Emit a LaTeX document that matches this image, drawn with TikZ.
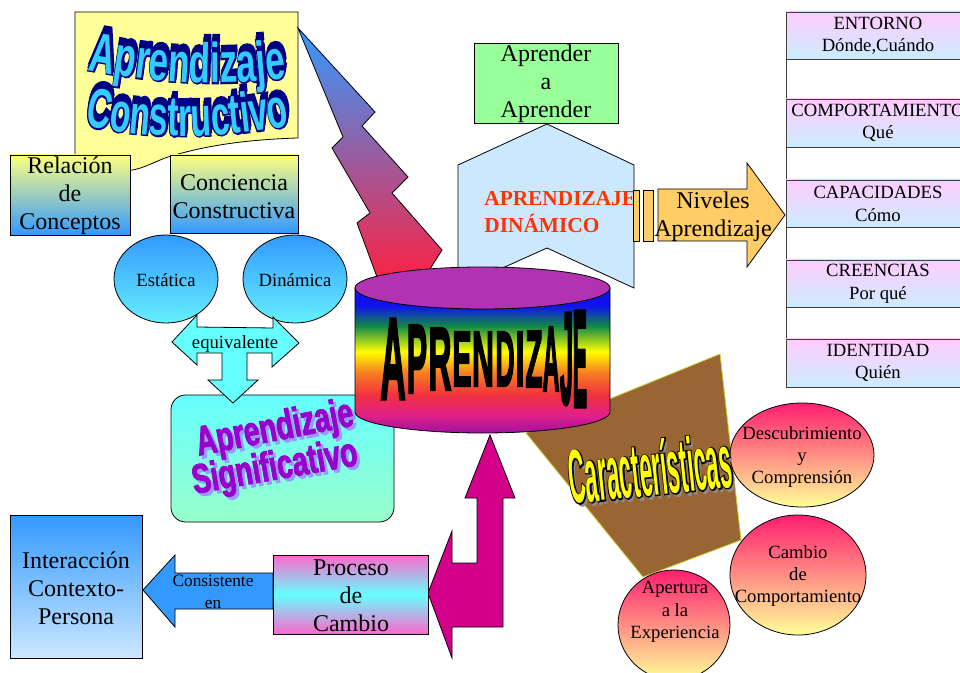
\documentclass[tikz,border=0pt]{standalone}
\usepackage{fontspec}
\setmainfont{Liberation Serif}
\newfontfamily\wfA[FakeStretch=0.63]{Liberation Sans}
\newfontfamily\wfAo[FakeStretch=0.63, FakeBold=5]{Liberation Sans}
\newfontfamily\wfB[FakeStretch=0.60]{Liberation Sans}
\newfontfamily\wfBo[FakeStretch=0.60, FakeBold=5]{Liberation Sans}
\newfontfamily\wfS[FakeStretch=0.68, FakeBold=2]{Liberation Sans}
\newfontfamily\wfC[FakeStretch=0.30]{Liberation Sans}
\newfontfamily\wfCo[FakeStretch=0.30, FakeBold=3]{Liberation Sans}
\newfontfamily\wfL[FakeBold=3]{Liberation Sans}
\usetikzlibrary{decorations.text}

\definecolor{bannerY}{HTML}{FFFF99}
\definecolor{relTop}{HTML}{FFFF80}
\definecolor{relBot}{HTML}{3399FF}
\definecolor{ellTop}{HTML}{3399FF}
\definecolor{ellBot}{HTML}{66F0FF}
\definecolor{sigTop}{HTML}{66FFFF}
\definecolor{sigBot}{HTML}{99FFCC}
\definecolor{sigText}{HTML}{9900CC}
\definecolor{sigShadow}{HTML}{9999FF}
\definecolor{eqC}{HTML}{66FFFF}
\definecolor{ltTop}{HTML}{3399FF}
\definecolor{ltBot}{HTML}{FF2040}
\definecolor{pentF}{HTML}{CCE8FF}
\definecolor{aprG}{HTML}{99FF99}
\definecolor{orangeA}{HTML}{FFCC66}
\definecolor{colTop}{HTML}{FFCCFF}
\definecolor{colBot}{HTML}{CCECFF}
\definecolor{brownQ}{HTML}{996633}
\definecolor{quadEdge}{HTML}{CCCC33}
\definecolor{cirTop}{HTML}{FF1F6F}
\definecolor{cirBot}{HTML}{FFFF99}
\definecolor{magA}{HTML}{D4008C}
\definecolor{intTop}{HTML}{3399FF}
\definecolor{intBot}{HTML}{CCE8FF}
\definecolor{procPink}{HTML}{FF66CC}
\definecolor{procCyan}{HTML}{66FFFF}
\definecolor{consC}{HTML}{3399FF}
\definecolor{cylTopC}{HTML}{B233B2}
\definecolor{dinRed}{HTML}{FF3300}
\definecolor{wnavy}{HTML}{000080}
\definecolor{wcyan}{HTML}{33CCFF}
\definecolor{charY}{HTML}{FFFF00}
\definecolor{charShadow}{HTML}{8C8C8C}
\definecolor{cylP}{HTML}{A010A0}
\definecolor{cylM}{HTML}{E0208A}
\definecolor{cylR}{HTML}{F03040}
\definecolor{cylO}{HTML}{F88020}
\definecolor{cylY}{HTML}{FFFF00}
\definecolor{cylG}{HTML}{108848}
\definecolor{cylB}{HTML}{1010F0}

% rainbow band for the side of the drum
\pgfdeclareverticalshading{rainbowside}{100bp}{color(0bp)=(cylP); color(25bp)=(cylP); color(31bp)=(cylM); color(38bp)=(cylR); color(46bp)=(cylO); color(53bp)=(cylY); color(62bp)=(cylG); color(69bp)=(cylB); color(100bp)=(cylB)}

% wavy word-art line: navy extrusion with a stroked rim, cyan face on top
\newcommand\wavecopies[4]{%
  \foreach \dx/\dy in {1/-7,0.5/-3.5,0/0}{%
    \path[shift={(\dx,\dy)}, decorate,
      decoration={text along path, text align=center, text={|#2\color{wnavy}|#3}}] #4;
  }%
  \path[decorate, decoration={text along path, text align=center, text={|#1\color{wcyan}|#3}}] #4;
}

\begin{document}
\begin{tikzpicture}[x=0.75pt, y=-0.75pt, line width=0.6pt,
  outl/.style={draw=black, line width=0.6pt},
  serif18/.style={align=center, inner sep=0pt, font=\fontsize{18}{21}\selectfont},
  serif14/.style={align=center, inner sep=0pt, font=\fontsize{14}{16.8}\selectfont},
  serif13/.style={align=center, inner sep=0pt, font=\fontsize{13}{16.5}\selectfont},
  levelbox/.style={draw=black!75, line width=0.6pt, top color=colTop, bottom color=colBot},
  charcircle/.style={draw=black, line width=0.6pt, top color=cirTop, bottom color=cirBot}]
\useasboundingbox (0,0) rectangle (960,673);
\clip (0,0) rectangle (960,673);

% ---- banner with wavy title ----
\path[outl, fill=bannerY] (75,12) -- (298,12) -- (298,138)
  .. controls (230,140) and (190,150) .. (165,158)
  .. controls (150,164) and (140,170) .. (125,171) -- (75,171) -- cycle;
\wavecopies{\wfA\bfseries\fontsize{42}{42}\selectfont}{\wfAo\bfseries\fontsize{42}{42}\selectfont}{Aprendizaje}{(50,62) .. controls (150,85) and (230,90) .. (325,72)}
\wavecopies{\wfB\bfseries\fontsize{42}{42}\selectfont}{\wfBo\bfseries\fontsize{42}{42}\selectfont}{Constructivo}{(45,115) .. controls (140,145) and (230,140) .. (330,118)}

% ---- lightning bolt ----
\path[outl, top color=ltTop, bottom color=ltBot]
  (298,28) -- (375,112) -- (362,126) -- (408,177) -- (392,193) -- (442,250)
  -- (420,285) -- (380,285) -- (357,223) -- (370,213) -- (332,148) -- (343,137) -- cycle;

% ---- two boxes under the banner ----
\path[outl, top color=relTop, bottom color=relBot] (10,155) rectangle (130,235);
\node[serif18] (rel) at (70,196) {Relación\\de\\Conceptos};
\path[outl, top color=relTop, bottom color=relBot] (170,155) rectangle (298,233);
\node[serif18] (conc) at (234,197) {Conciencia\\Constructiva};

% ---- static / dynamic ----
\path[outl, top color=ellTop, bottom color=ellBot] (166,279) ellipse [x radius=52, y radius=44];
\node[serif14] (est) at (166,280) {Estática};
\path[outl, top color=ellTop, bottom color=ellBot] (295,279) ellipse [x radius=52, y radius=44];
\node[serif14] (dina) at (295,280) {Dinámica};

% ---- meaningful learning box ----
\path[outl, rounded corners=11pt, top color=sigTop, bottom color=sigBot] (171,395) rectangle (394,522);

% ---- equivalence arrow ----
\path[outl, fill=eqC] (172,342) -- (197,315) -- (197,327) -- (273,328) -- (273,317) -- (299,343)
  -- (272,367) -- (272,353) -- (247,353) -- (247,380) -- (258,380) -- (233,403) -- (208,380)
  -- (222,380) -- (222,353) -- (197,353) -- (197,365) -- cycle;
\node[serif14] (eqv) at (235,344) {equivalente};

% ---- learning to learn / dynamic learning ----
\path[outl, fill=aprG] (474,43) rectangle (618,123);
\node[serif18] (apr) at (546,84) {Aprender\\a\\Aprender};
\path[outl, fill=pentF] (458,165) -- (547,124) -- (634,165) -- (634,288) -- (547,248) -- (458,288) -- cycle;
\node[anchor=west, align=left, inner sep=0pt, text=dinRed, font=\bfseries\fontsize{16}{20}\selectfont] (dinam) at (484,212) {APRENDIZAJE\\DINÁMICO};

% ---- levels arrow ----
\path[outl, fill=orangeA] (633,190) rectangle (639,241);
\path[outl, fill=orangeA] (643,190) rectangle (653,241);
\path[outl, fill=orangeA] (658,189) -- (747,189) -- (747,163) -- (785,215) -- (747,267) -- (747,241) -- (658,241) -- cycle;
\node[serif18] (niv) at (713,217) {Niveles\\Aprendizaje};

% ---- characteristics panel ----
\path[draw=quadEdge, line width=0.6pt, fill=brownQ] (526,433) -- (720,354) -- (741,540) -- (643,577) -- cycle;

% ---- central drum ----
\path[outl, shading=rainbowside] (355,288) -- (355,412)
  .. controls (355,423.6) and (412.1,433) .. (482.5,433)
  .. controls (552.9,433) and (610,423.6) .. (610,412) -- (610,288) -- cycle;
\path[outl, fill=cylTopC] (482.5,288) ellipse [x radius=127.5, y radius=21];
\foreach \ch/\xx/\sx/\sy [count=\i] in {A/393/0.66/2.17, P/417/0.57/1.83, R/440/0.60/1.68, E/462/0.54/1.47, N/483/0.57/1.47, D/505/0.50/1.47, I/520/0.62/1.47, Z/534/0.53/1.52, A/551/0.44/1.73, J/566.5/0.44/2.46, E/580/0.40/2.59}
  \node[inner sep=0pt, text=black, font=\wfL\bfseries\fontsize{40}{40}\selectfont] (drum\i) at (\xx,359) {\scalebox{\sx}[\sy]{\ch}};

% ---- word-art inside the meaningful learning box ----
\node[inner sep=0pt, rotate=11, text=sigShadow, font=\wfS\bfseries\fontsize{31}{31}\selectfont] (sigAs) at (278,433) {Aprendizaje};
\node[inner sep=0pt, rotate=11, text=sigText, font=\wfS\bfseries\fontsize{31}{31}\selectfont] (sigA) at (275,430) {Aprendizaje};
\node[inner sep=0pt, rotate=10, text=sigShadow, font=\wfS\bfseries\fontsize{31}{31}\selectfont] (sigBs) at (278,472) {Significativo};
\node[inner sep=0pt, rotate=10, text=sigText, font=\wfS\bfseries\fontsize{31}{31}\selectfont] (sigB) at (275,469) {Significativo};

% ---- magenta bent arrow ----
\path[outl, fill=magA] (428,593) -- (452,531) -- (452,563) -- (477,563) -- (477,498) -- (465,498)
  -- (490,435) -- (515,498) -- (503,498) -- (503,627) -- (452,627) -- (452,658) -- cycle;

% ---- characteristic circles ----
\path[charcircle] (802,455) ellipse [x radius=72, y radius=52];
\node[serif14] (desc) at (802,457) {Descubrimiento\\y\\Comprensión};
\path[charcircle] (798,575) ellipse [x radius=68, y radius=60];
\node[serif14] (camb) at (798,576) {Cambio\\de\\Comportamiento};
\path[charcircle] (674,625) ellipse [x radius=56, y radius=55];
\node[serif14] (aper) at (675,612) {Apertura\\a la\\Experiencia};

% ---- "Características" word-art: grey shadow, black rim, yellow face ----
\node[inner sep=0pt, rotate=6, text=charShadow, font=\wfC\bfseries\fontsize{57}{57}\selectfont] (caracS) at (653,472) {Características};
\node[inner sep=0pt, rotate=6, text=black, font=\wfCo\bfseries\fontsize{57}{57}\selectfont] (caracR) at (650,468) {Características};
\node[inner sep=0pt, rotate=6, text=charY, font=\wfC\bfseries\fontsize{57}{57}\selectfont] (carac) at (650,468) {Características};

% ---- logical levels column ----
\draw[draw=black!75, line width=0.6pt] (786,12) -- (786,387);
\path[levelbox] (786,12) rectangle (975,59);
\node[serif14] (lv1) at (878,36) {ENTORNO\\Dónde,Cuándo};
\path[levelbox] (786,99) rectangle (975,147);
\node[serif14] (lv2) at (878,123) {COMPORTAMIENTO\\Qué};
\path[levelbox] (786,180) rectangle (975,227);
\node[serif14] (lv3) at (878,204) {CAPACIDADES\\Cómo};
\path[levelbox] (786,260) rectangle (975,307);
\node[serif14] (lv4) at (878,284) {CREENCIAS\\Por qué};
\path[levelbox] (786,339) rectangle (975,387);
\node[serif14] (lv5) at (878,363) {IDENTIDAD\\Quién};

% ---- bottom row ----
\path[outl, top color=intTop, bottom color=intBot] (10,515) rectangle (142,658);
\node[serif18] (inter) at (76,588) {Interacción\\Contexto-\\Persona};
\path[outl, fill=consC] (143,590) -- (175,555) -- (175,573) -- (273,573) -- (273,609) -- (175,609) -- (175,627) -- cycle;
\node[serif13] (cons) at (213,592) {Consistente\\en};
\path[outl, top color=procPink, bottom color=procPink, middle color=procCyan] (273,555) rectangle (428,634);
\node[serif18] (proc) at (351,596) {Proceso\\de\\Cambio};
\end{tikzpicture}
\end{document}
